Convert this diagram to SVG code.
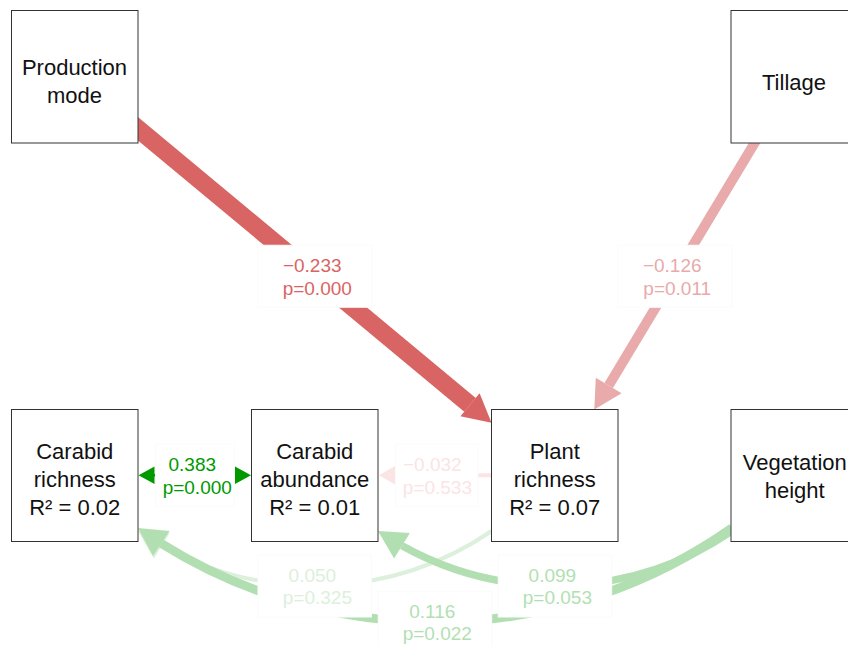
<svg xmlns="http://www.w3.org/2000/svg" width="848" height="646" viewBox="0 0 848 646">
<style>
.box{fill:#fff;stroke:#333;stroke-width:1}
.nt{font-family:"Liberation Sans",Arial,sans-serif;font-size:22px;fill:#111;text-anchor:middle}
.lt{font-family:"Liberation Sans",Arial,sans-serif;font-size:19px;text-anchor:middle}
.lb{fill:#fff;stroke:#fbfbfb;stroke-width:1}
.e{fill:none}
</style>
<rect width="848" height="646" fill="#fff"/>
<g id="connectors">
  <path class="e" d="M491.7 531 A314.2 314.2 0 0 1 161.8 545.7" stroke="#dcf0dc" stroke-width="4"/>
  <polygon points="138,531 169.7,533 153.9,558.5" fill="#dcf0dc"/>
  <path class="e" d="M732 528 A516.2 516.2 0 0 1 161.3 543.5" stroke="#b2dfb2" stroke-width="9"/>
  <polygon points="138,528 169.6,531 153,556" fill="#b2dfb2"/>
  <path class="e" d="M732 531 A314.7 314.7 0 0 1 402 545.8" stroke="#b2dfb2" stroke-width="7.5"/>
  <polygon points="378,531 409.9,533 394.1,558.6" fill="#b2dfb2"/>
  <path class="e" d="M74.75 76.25 L470 404.8" stroke="#d96464" stroke-width="18"/>
  <polygon points="491.5,422.7 460.4,416.3 479.6,393.3" fill="#d96464"/>
  <path class="e" d="M794.75 76.25 L608.7 385.5" stroke="#e8aaaa" stroke-width="10"/>
  <polygon points="594.3,409.5 621.6,393.2 595.8,377.8" fill="#e8aaaa"/>
  <path class="e" d="M491.5 475.25 L395 475.25" stroke="#fbe4e4" stroke-width="4"/>
  <polygon points="379,475.25 395,466 395,484.5" fill="#fbe4e4"/>
  <path class="e" d="M154 475.25 L236 475.25" stroke="#009900" stroke-width="2.5"/>
  <polygon points="138.5,475.25 154.5,466.5 154.5,484" fill="#009900"/>
  <polygon points="251,475.25 235,466.5 235,484" fill="#009900"/>
</g>
<g id="edge-labels">
  <g fill="#d96464"><rect class="lb" x="257.75" y="245.25" width="114" height="62"/>
    <text class="lt" x="312.25" y="272.25">−0.233</text><text class="lt" x="317.25" y="294.95">p=0.000</text></g>
  <g fill="#e8aaaa"><rect class="lb" x="617.75" y="245.25" width="114" height="62"/>
    <text class="lt" x="672.25" y="272.25">−0.126</text><text class="lt" x="677.25" y="294.95">p=0.011</text></g>
  <g fill="#009900"><rect class="lb" x="155.5" y="444.25" width="79" height="62"/>
    <text class="lt" x="192.25" y="471.25">0.383</text><text class="lt" x="197.25" y="493.95">p=0.000</text></g>
  <g fill="#fbe4e4"><rect class="lb" x="395.5" y="444.25" width="82.5" height="62"/>
    <text class="lt" x="432.35" y="471.25">−0.032</text><text class="lt" x="437.35" y="493.95">p=0.533</text></g>
  <g fill="#dcf0dc"><rect class="lb" x="258" y="555" width="113.5" height="62"/>
    <text class="lt" x="312.35" y="581.5">0.050</text><text class="lt" x="317.35" y="604.2">p=0.325</text></g>
  <g fill="#b2dfb2"><rect class="lb" x="498.2" y="555" width="113.5" height="62"/>
    <text class="lt" x="552.35" y="581.5">0.099</text><text class="lt" x="557.35" y="604.2">p=0.053</text></g>
  <g fill="#b2dfb2"><rect class="lb" x="378.2" y="591.5" width="113.5" height="62"/>
    <text class="lt" x="432.25" y="617.5">0.116</text><text class="lt" x="437.25" y="640.2">p=0.022</text></g>
</g>
<g id="production-mode">
  <rect class="box" x="11.5" y="10.5" width="126.5" height="132.5"/>
  <text class="nt" x="74.5" y="75">Production</text><text class="nt" x="74.5" y="103">mode</text>
</g>
<g id="tillage">
  <rect class="box" x="731" y="10.5" width="126.5" height="132.5"/>
  <text class="nt" x="794" y="89.5">Tillage</text>
</g>
<g id="carabid-richness">
  <rect class="box" x="11.5" y="409.5" width="126.5" height="132"/>
  <text class="nt" x="74.75" y="458.5">Carabid</text><text class="nt" x="74.75" y="486.5">richness</text><text class="nt" x="74.75" y="514.5">R² = 0.02</text>
</g>
<g id="carabid-abundance">
  <rect class="box" x="251.5" y="409.5" width="126.5" height="132"/>
  <text class="nt" x="314.75" y="458.5">Carabid</text><text class="nt" x="314.75" y="486.5">abundance</text><text class="nt" x="314.75" y="514.5">R² = 0.01</text>
</g>
<g id="plant-richness">
  <rect class="box" x="491.5" y="409.5" width="126.5" height="132"/>
  <text class="nt" x="554.75" y="458.5">Plant</text><text class="nt" x="554.75" y="486.5">richness</text><text class="nt" x="554.75" y="514.5">R² = 0.07</text>
</g>
<g id="vegetation-height">
  <rect class="box" x="731" y="409.5" width="126.5" height="132"/>
  <text class="nt" x="794.75" y="470">Vegetation</text><text class="nt" x="794.75" y="498">height</text>
</g>
</svg>
